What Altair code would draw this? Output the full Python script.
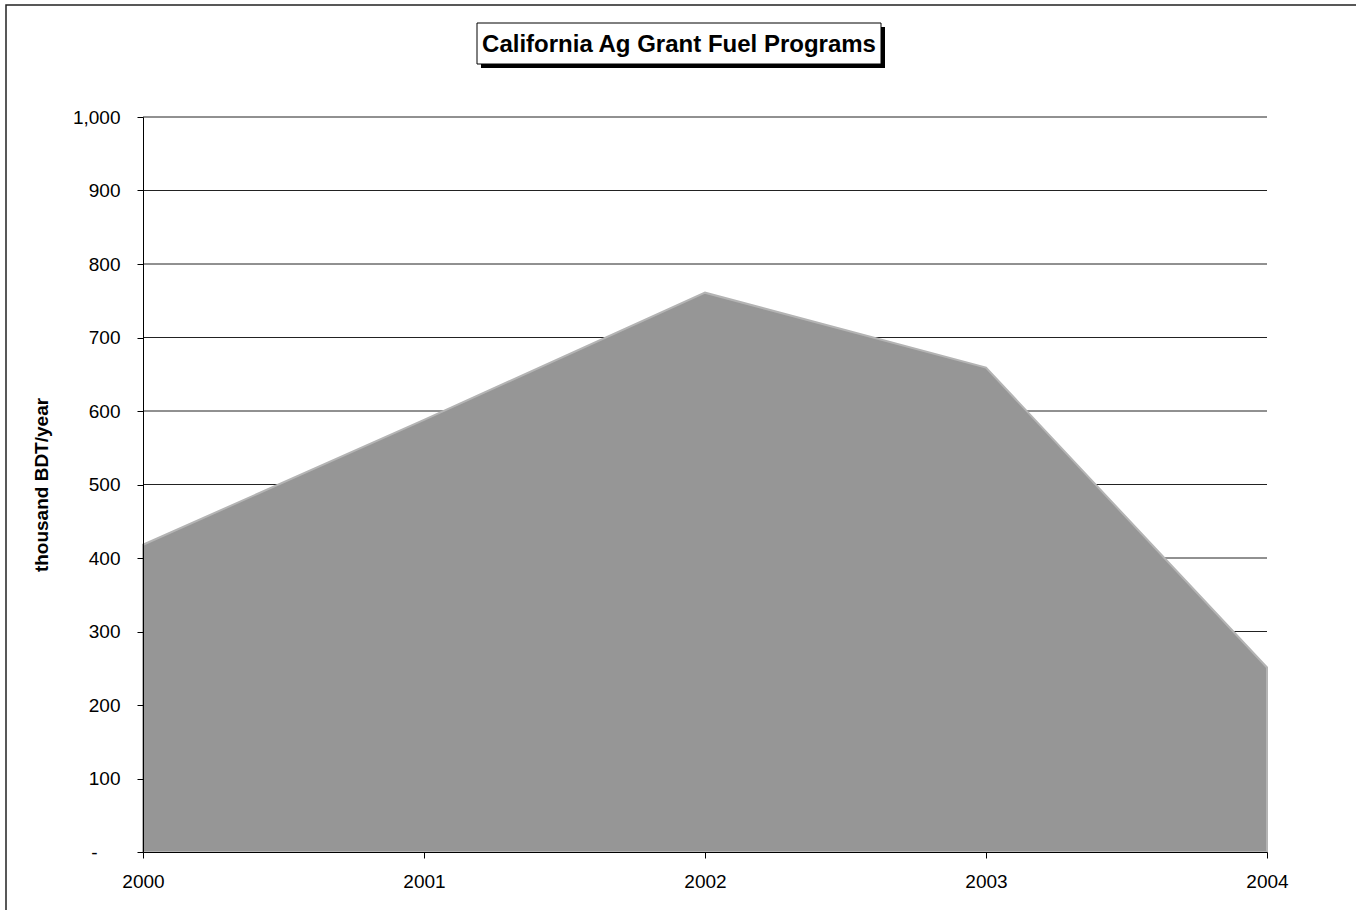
import altair as alt
import pandas as pd

# ---- data ----
years = [2000, 2001, 2002, 2003, 2004]
values = [418, 588, 761, 659, 251]
y_ticks = [0, 100, 200, 300, 400, 500, 600, 700, 800, 900, 1000]
grid_values = [100, 200, 300, 400, 500, 600, 700, 800, 900, 1000]
title_text = "California Ag Grant Fuel Programs"
y_title = "thousand BDT/year"

df = pd.DataFrame({"year": years, "value": values})
grid_df = pd.DataFrame({"value": grid_values})
one = pd.DataFrame({"k": [0]})

W, H = 1124, 735
FONT = "Liberation Sans"

xscale = alt.Scale(domain=[2000, 2004], nice=False, zero=False)
yscale = alt.Scale(domain=[0, 1000], nice=False)

x_axis = alt.Axis(values=years, format="d", grid=False, title=None,
                  tickSize=6, labelPadding=14, labelFontSize=19, labelFont=FONT,
                  labelColor="black", domainColor="black", tickColor="black",
                  labelFlush=False, zindex=1)
y_axis = alt.Axis(values=y_ticks, grid=False,
                  labelExpr="datum.value == 0 ? '-' : format(datum.value, ',')",
                  tickSize=6,
                  labelPadding={"condition": {"test": "datum.value == 0", "value": 40}, "value": 17},
                  labelFontSize=19, labelFont=FONT,
                  labelColor="black", domainColor="black", tickColor="black",
                  title=y_title, titleFont=FONT, titleFontSize=19, titleFontWeight="bold",
                  titleColor="black", titleX=-102, titleY=H / 2, titleAngle=-90,
                  titleAlign="center", titleBaseline="middle", zindex=1)

# outer frame (partially cropped on right/bottom like the reference)
frame = alt.Chart(one).mark_rect(fill="white", stroke="#222", strokeWidth=1.5).encode(
    x=alt.value(-137), x2=alt.value(W + 150), y=alt.value(-112), y2=alt.value(H + 100))

shadow = alt.Chart(one).mark_rect(fill="black").encode(
    x=alt.value(338), x2=alt.value(742), y=alt.value(-90), y2=alt.value(-49))
box = alt.Chart(one).mark_rect(fill="white", stroke="black", strokeWidth=1).encode(
    x=alt.value(334), x2=alt.value(738), y=alt.value(-94), y2=alt.value(-53))
title = alt.Chart(one).mark_text(text=title_text, font=FONT, fontSize=24, fontWeight="bold",
                                 color="black", align="center", baseline="alphabetic").encode(
    x=alt.value(536), y=alt.value(-65))

grid = alt.Chart(grid_df).mark_rule(color="#222", strokeWidth=1).encode(
    y=alt.Y("value:Q", scale=yscale, axis=y_axis))

area = alt.Chart(df).mark_area(fill="#969696", stroke="#b4b4b4", strokeWidth=2, opacity=1).encode(
    x=alt.X("year:Q", scale=xscale, axis=x_axis),
    y=alt.Y("value:Q", scale=yscale, axis=y_axis))

chart = alt.layer(frame, shadow, box, title, grid, area).properties(
    width=W, height=H,
    autosize=alt.AutoSizeParams(type="none"),
    padding={"left": 143, "top": 117, "right": 89, "bottom": 58},
    background="white",
).configure_view(stroke="black", strokeWidth=1)

chart.save("out.html", embed_options={"renderer": "svg", "actions": False})
